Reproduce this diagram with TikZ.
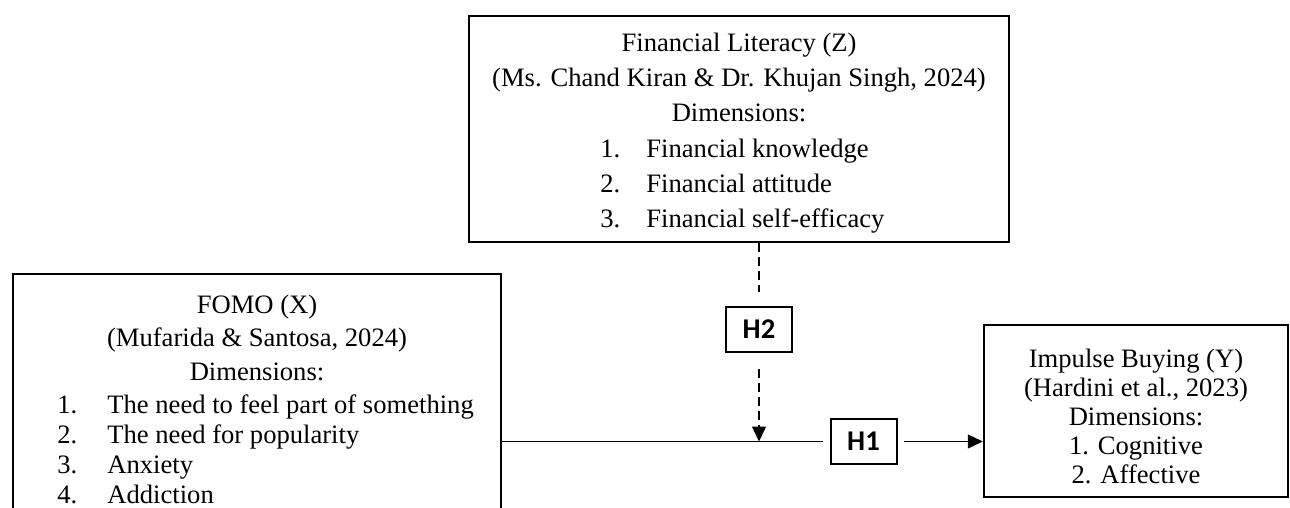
\documentclass[tikz,border=0pt]{standalone}
\usepackage{fontspec}
\setmainfont{Liberation Serif}
\newfontfamily\hfont{Carlito}
\usetikzlibrary{arrows.meta}
\begin{document}
\begin{tikzpicture}[x=0.5pt,y=-0.5pt,
  box/.style={draw, line width=1.25pt, rectangle, inner sep=0pt},
  hbox/.style={draw, line width=1pt, inner sep=0pt, minimum width=33pt, minimum height=22.5pt, font=\hfont\fontsize{14.3}{16}\selectfont\bfseries},
  txt/.style={inner sep=0pt, anchor=base, font=\fontsize{13.3}{16}\selectfont},
  lt/.style={txt, anchor=base west},
  conn/.style={line width=0.7pt},
  dconn/.style={conn, dash pattern=on 4.5pt off 2.5pt},
  tip/.style={-{Triangle[length=7.5pt,width=7pt]}}
]
\fill[white] (0,0) rectangle (1290,508);
\path[use as bounding box, clip] (0,0) rectangle (1290,508);
% boxes
\node[box, minimum width=270pt, minimum height=113pt] (Z) at (739,129) {};
\node[box, minimum width=244pt, minimum height=133pt] (F) at (257,407) {};
\node[box, minimum width=152pt, minimum height=86pt] (Y) at (1136,411) {};
\node[hbox] (H2) at (759,329.5) {H2};
\node[hbox] (H1) at (863.5,441.5) {H1};
% Z text
\node[txt] (z1) at (739,52) {Financial Literacy (Z)};
\node[txt] (z2) at (739,87) {(Ms. Chand Kiran \& Dr. Khujan Singh, 2024)};
\node[txt] (z3) at (739,122) {Dimensions:};
\node[lt] (zn1) at (600,157) {1.};
\node[lt] (zt1) at (646,157) {Financial knowledge};
\node[lt] (zn2) at (600,192) {2.};
\node[lt] (zt2) at (646,192) {Financial attitude};
\node[lt] (zn3) at (600,227) {3.};
\node[lt] (zt3) at (646,227) {Financial self-efficacy};
% FOMO text
\node[txt] (f1) at (257,313) {FOMO (X)};
\node[txt] (f2) at (257,346) {(Mufarida \& Santosa, 2024)};
\node[txt] (f3) at (257,380) {Dimensions:};
\node[lt] (fn1) at (57,413) {1.};
\node[lt] (ft1) at (107,413) {The need to feel part of something};
\node[lt] (fn2) at (57,443) {2.};
\node[lt] (ft2) at (107,443) {The need for popularity};
\node[lt] (fn3) at (57,473) {3.};
\node[lt] (ft3) at (107,473) {Anxiety};
\node[lt] (fn4) at (57,503) {4.};
\node[lt] (ft4) at (107,503) {Addiction};
% Impulse text
\node[txt] (y1) at (1136,367) {Impulse Buying (Y)};
\node[txt] (y2) at (1136,396) {(Hardini et al., 2023)};
\node[txt] (y3) at (1136,425) {Dimensions:};
\node[txt] (y4) at (1136,454) {1. Cognitive};
\node[txt] (y5) at (1136,483) {2. Affective};
% connectors
\coordinate (M) at (H2 |- H1);
\draw[conn, shorten >=3.5pt] (F.east |- H1) -- (H1.west);
\draw[conn, tip, shorten <=3pt] (H1.east) -- (Y.west |- H1);
\draw[dconn, shorten >=7pt] (Z.south -| H2) -- (H2.north);
\draw[dconn, tip, shorten <=8pt] (H2.south) -- (M);
\end{tikzpicture}
\end{document}
